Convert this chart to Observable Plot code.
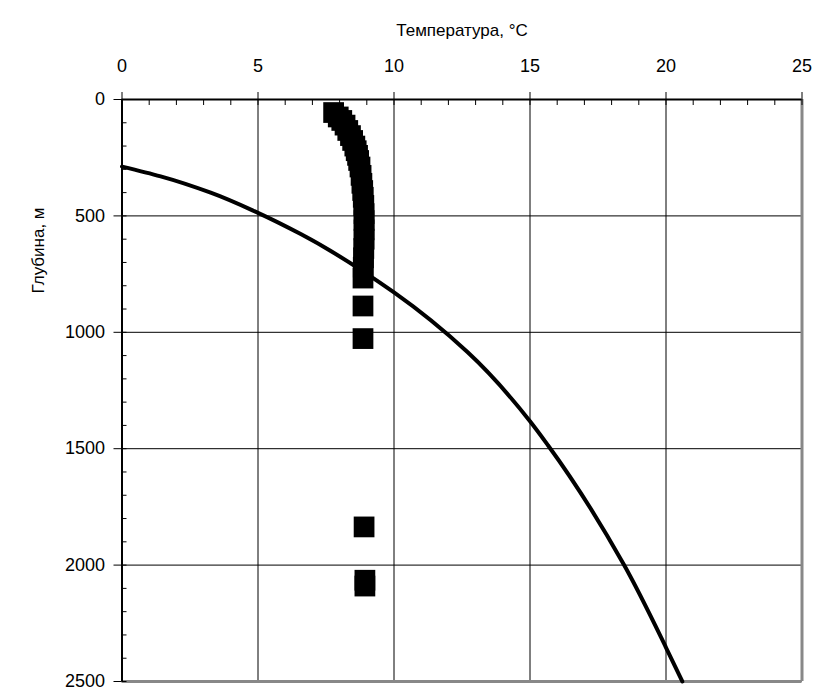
<!DOCTYPE html>
<html>
<head>
<meta charset="utf-8">
<script src="https://cdn.jsdelivr.net/npm/d3@7"></script>
<script src="https://cdn.jsdelivr.net/npm/@observablehq/plot@0.6"></script>
<style>
  html, body { margin: 0; padding: 0; background: white; }
</style>
</head>
<body>
<div id="chart"></div>
<script>
// Axis ticks
const xTicks = [0, 5, 10, 15, 20, 25];
const yTicks = [0, 500, 1000, 1500, 2000, 2500];
const xMinorTicks = [0,1,2,3,4,5,6,7,8,9,10,11,12,13,14,15,16,17,18,19,20,21,22,23,24,25];
const yMinorTicks = [0,100,200,300,400,500,600,700,800,900,1000,1100,1200,1300,1400,1500,1600,1700,1800,1900,2000,2100,2200,2300,2400,2500];

const xLabel = "Температура, °C";
const yLabel = "Глубина, м";

// Curve (line)
const curveT     = [0,   1.42, 3.26, 5.0, 6.57, 10.0, 12.7, 15.0, 15.66, 18.46, 20.0, 20.6];
const curveDepth = [288, 330,  400,  487, 578,  829,  1085, 1382, 1485,  2000,  2354, 2500];

// Measured points (squares)
const measT     = [7.78, 7.95, 8.08, 8.20, 8.30, 8.40, 8.48, 8.56, 8.61, 8.66, 8.70, 8.75, 8.79, 8.82, 8.85, 8.87, 8.89, 8.90, 8.90, 8.90, 8.90, 8.89, 8.88, 8.87, 8.86, 8.86, 8.86, 8.90, 8.93, 8.93];
const measDepth = [56,   75,   90,   110,  133,  155,  176,  200,  220,  240,  262,  290,  326,  360,  391,  420,  455,  490,  520,  560,  600,  640,  680,  720,  767,  887,  1027, 1836, 2065, 2090];

const curve = curveT.map((t, i) => ({T: t, d: curveDepth[i]}));
const meas = measT.map((t, i) => ({T: t, d: measDepth[i]}));

const chart = Plot.plot({
  width: 816,
  height: 688,
  marginLeft: 121.5,
  marginRight: 14.5,
  marginTop: 99,
  marginBottom: 7,
  x: {domain: [0, 25]},
  y: {domain: [0, 2500], reverse: true},
  style: {fontFamily: "'Liberation Sans', Arial, sans-serif", fontSize: "16px", background: "white", overflow: "visible", color: "black"},
  marks: [
    Plot.ruleX(xTicks, {stroke: "black", strokeWidth: 1}),
    Plot.ruleY(yTicks, {stroke: "black", strokeWidth: 1}),
    Plot.ruleX([25], {stroke: "#888", strokeWidth: 3}),
    Plot.ruleY([2500], {stroke: "#888", strokeWidth: 3}),
    Plot.ruleX([0], {stroke: "black", strokeWidth: 2}),
    Plot.ruleY([0], {stroke: "black", strokeWidth: 2}),
    Plot.axisX(xMinorTicks, {anchor: "top", tickSize: -5, tickFormat: () => "", label: null}),
    Plot.axisY(yMinorTicks, {anchor: "left", tickSize: -5, tickFormat: () => "", label: null}),
    Plot.axisX(xTicks, {anchor: "top", tickSize: 8, tickPadding: 20, label: null, fontSize: 18, tickFormat: d3.format("d")}),
    Plot.axisY(yTicks, {anchor: "left", tickSize: 8, tickPadding: 9, label: null, fontSize: 18, tickFormat: d3.format("d")}),
    Plot.text([xLabel], {frameAnchor: "top", dy: -69, fontSize: 17, fill: "black", textAnchor: "middle", lineAnchor: "middle"}),
    Plot.text([yLabel], {frameAnchor: "top-left", dx: -83, dy: 151, rotate: -90, fontSize: 17, fill: "black", textAnchor: "middle", lineAnchor: "middle"}),
    Plot.line(curve, {x: "T", y: "d", stroke: "black", strokeWidth: 4, curve: "monotone-y"}),
    Plot.dot(meas, {x: "T", y: "d", symbol: "square", r: 11.7, fill: "black", stroke: "none"})
  ]
});
document.getElementById("chart").appendChild(chart);
</script>
</body>
</html>
